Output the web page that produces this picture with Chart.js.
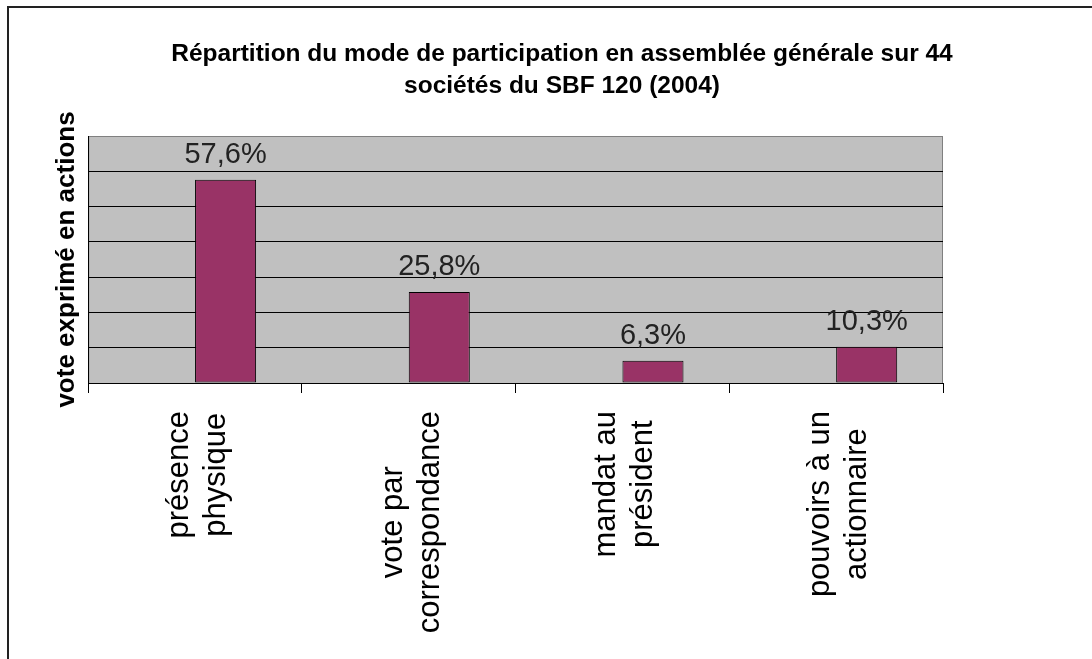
<!DOCTYPE html>
<html>
<head>
<meta charset="utf-8">
<script src="https://cdn.jsdelivr.net/npm/chart.js@4.4.0/dist/chart.umd.min.js"></script>
<style>
    html, body { margin: 0; padding: 0; background: #fff; }
    #wrap { width: 1092px; height: 659px; position: relative; }
</style>
</head>
<body>
<div id="wrap"><canvas id="chart"></canvas></div>
<script>
// chart data
const titleLines = ['Répartition du mode de participation en assemblée générale sur 44', 'sociétés du SBF 120 (2004)'];
const categories = [['présence', 'physique'], ['vote par', 'correspondance'], ['mandat au', 'président'], ['pouvoirs à un', 'actionnaire']];
const shares = [57.6, 25.8, 6.3, 10.3];
const emptySeries = [null, null, null, null];   // blank first series, as in the original sheet
const yTitle = 'vote exprimé en actions';

const FONT = '"Liberation Sans", Arial, sans-serif';

// white page, outer frame and grey plot background
const framePlugin = {
    id: 'frame',
    beforeDraw(chart) {
        const ctx = chart.ctx;
        const a = chart.chartArea;
        ctx.save();
        ctx.fillStyle = '#fff';
        ctx.fillRect(0, 0, chart.width, chart.height);
        ctx.strokeStyle = '#222';
        ctx.lineWidth = 2;
        ctx.strokeRect(8, 7, 2000, 2000);
        ctx.fillStyle = '#c0c0c0';
        ctx.fillRect(a.left, a.top, a.right - a.left, a.bottom - a.top);
        ctx.strokeStyle = '#808080';
        ctx.lineWidth = 1;
        ctx.strokeRect(a.left + 0.5, a.top + 0.5, a.right - a.left - 1, a.bottom - a.top);
        ctx.restore();
    }
};

// two-line bold title, centred as in the picture
const titlePlugin = {
    id: 'titleText',
    afterDraw(chart) {
        const ctx = chart.ctx;
        ctx.save();
        ctx.font = 'bold 24.5px ' + FONT;
        ctx.fillStyle = '#000';
        ctx.textAlign = 'center';
        ctx.textBaseline = 'alphabetic';
        ctx.fillText(titleLines[0], 562, 61);
        ctx.fillText(titleLines[1], 562, 93);
        ctx.restore();
    }
};

// value labels above the bars
const valuePlugin = {
    id: 'values',
    afterDatasetsDraw(chart) {
        const ctx = chart.ctx;
        const meta = chart.getDatasetMeta(1);
        ctx.save();
        ctx.font = '29px ' + FONT;
        ctx.fillStyle = '#222';
        ctx.textAlign = 'center';
        ctx.textBaseline = 'alphabetic';
        meta.data.forEach((bar, i) => {
            const txt = shares[i].toFixed(1).replace('.', ',') + '%';
            ctx.fillText(txt, bar.x, bar.y - 17);
        });
        ctx.restore();
    }
};

// vertical category labels, lines centred on each other
const xLabelPlugin = {
    id: 'xLabels',
    afterDraw(chart) {
        const ctx = chart.ctx;
        const xs = chart.scales.x;
        const top = xs.bottom + 18;
        const lh = 37;
        ctx.save();
        ctx.font = '31px ' + FONT;
        ctx.fillStyle = '#000';
        ctx.textAlign = 'center';
        ctx.textBaseline = 'alphabetic';
        categories.forEach((lines, i) => {
            const cx = xs.getPixelForValue(i);
            const maxW = Math.max(...lines.map(l => ctx.measureText(l).width));
            ctx.save();
            ctx.translate(cx, top + maxW / 2);
            ctx.rotate(-Math.PI / 2);
            lines.forEach((l, j) => ctx.fillText(l, 0, -7 + j * lh));
            ctx.restore();
        });
        ctx.restore();
    }
};

new Chart(document.getElementById('chart'), {
    type: 'bar',
    data: {
        labels: categories,
        datasets: [
            {
                label: '',
                data: emptySeries,
                backgroundColor: '#993366'
            },
            {
                label: 'vote exprimé',
                data: shares,
                backgroundColor: '#993366',
                borderColor: '#000',
                borderWidth: 1,
                borderSkipped: false
            }
        ]
    },
    options: {
        responsive: true,
        maintainAspectRatio: false,
        animation: false,
        categoryPercentage: 2 / 3.5,
        barPercentage: 1,
        layout: {
            padding: { left: 51, right: 149, top: 136, bottom: 266 }
        },
        plugins: {
            legend: { display: false },
            tooltip: { enabled: false },
            title: { display: false }
        },
        scales: {
            x: {
                ticks: { display: false },
                grid: {
                    offset: true,
                    drawOnChartArea: false,
                    drawTicks: true,
                    tickLength: 10,
                    color: '#000'
                },
                border: { color: '#000', width: 1 }
            },
            y: {
                min: 0,
                max: 70,
                ticks: { display: false, stepSize: 10 },
                grid: {
                    drawTicks: false,
                    color: c => (c.tick && c.tick.value === 70 ? '#808080' : '#000')
                },
                border: { color: '#000', width: 1 },
                title: {
                    display: true,
                    text: yTitle,
                    color: '#000',
                    font: { family: FONT, size: 26, weight: 'bold' },
                    padding: { top: 0, bottom: 6 }
                }
            }
        }
    },
    plugins: [framePlugin, titlePlugin, valuePlugin, xLabelPlugin]
});
</script>
</body>
</html>
